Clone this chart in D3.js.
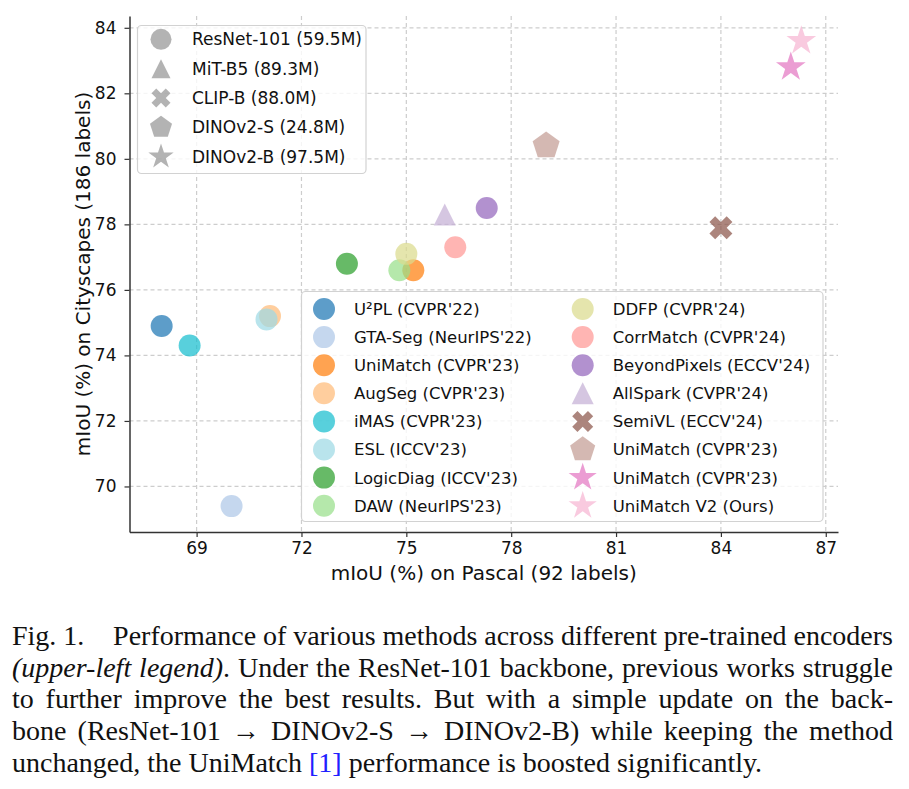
<!DOCTYPE html>
<html>
<head>
<meta charset="utf-8">
<script src="https://cdn.jsdelivr.net/npm/d3@7"></script>
<style>
  body { margin: 0; background: #fff; }
  svg { display: block; }
</style>
</head>
<body>
<div id="chart"></div>
<script>
// ---- data ----
const methods = [
  "U²PL (CVPR'22)", "GTA-Seg (NeurIPS'22)", "UniMatch (CVPR'23)", "AugSeg (CVPR'23)",
  "iMAS (CVPR'23)", "ESL (ICCV'23)", "LogicDiag (ICCV'23)", "DAW (NeurIPS'23)",
  "DDFP (CVPR'24)", "CorrMatch (CVPR'24)", "BeyondPixels (ECCV'24)", "AllSpark (CVPR'24)",
  "SemiVL (ECCV'24)", "UniMatch (CVPR'23)", "UniMatch (CVPR'23)", "UniMatch V2 (Ours)"
];
const pascal =     [68.0, 70.0, 75.2, 71.1, 68.8, 71.0, 73.3, 74.8, 75.0, 76.4, 77.3, 76.1, 84.0, 79.0, 86.0, 86.3];
const cityscapes = [74.9, 69.4, 76.6, 75.2, 74.3, 75.1, 76.8, 76.6, 77.1, 77.3, 78.5, 78.3, 77.9, 80.4, 82.8, 83.6];
// encoder index per method (into encoders)
const methodEncoder = [0, 0, 0, 0, 0, 0, 0, 0, 0, 0, 0, 1, 2, 3, 4, 4];
const encoders = ["ResNet-101 (59.5M)", "MiT-B5 (89.3M)", "CLIP-B (88.0M)", "DINOv2-S (24.8M)", "DINOv2-B (97.5M)"];
const xTicks = [69, 72, 75, 78, 81, 84, 87];
const yTicks = [70, 72, 74, 76, 78, 80, 82, 84];

const colors = [
  '#1f77b4', '#aec7e8', '#ff7f0e', '#ffbb78', '#17becf', '#9edae5', '#2ca02c', '#98df8a',
  '#dbdb8d', '#ff9896', '#9467bd', '#c5b0d5', '#8c564b', '#c49c94', '#e377c2', '#f7b6d2'
];

const captionLines = [
  "Fig. 1.| Performance of various methods across different pre-trained encoders",
  "*(upper-left legend)*. Under the ResNet-101 backbone, previous works struggle",
  "to further improve the best results. But with a simple update on the back-",
  "bone (ResNet-101 → DINOv2-S → DINOv2-B) while keeping the method",
  "unchanged, the UniMatch [1] performance is boosted significantly."
];

// ---- marker shapes (matplotlib-like) ----
function polygon(context, pts) {
  pts.forEach((p, i) => (i ? context.lineTo(p[0], p[1]) : context.moveTo(p[0], p[1])));
  context.closePath();
}
const shapes = [
  { draw(c, s) { c.moveTo(s / 2, 0); c.arc(0, 0, s / 2, 0, 2 * Math.PI); } },
  { draw(c, s) { polygon(c, [[0, -s / 2], [-s / 2, s / 2], [s / 2, s / 2]]); } },
  { draw(c, s) {
      const p = [[-0.25, -0.5], [0, -0.25], [0.25, -0.5], [0.5, -0.25], [0.25, 0], [0.5, 0.25],
                 [0.25, 0.5], [0, 0.25], [-0.25, 0.5], [-0.5, 0.25], [-0.25, 0], [-0.5, -0.25]];
      polygon(c, p.map(d => [d[0] * s, d[1] * s]));
  } },
  { draw(c, s) {
      polygon(c, d3.range(5).map(k => {
        const a = -Math.PI / 2 + k * 2 * Math.PI / 5;
        return [s * Math.cos(a), s * Math.sin(a)];
      }));
  } },
  { draw(c, s) {
      polygon(c, d3.range(10).map(k => {
        const a = -Math.PI / 2 + k * Math.PI / 5;
        const r = k % 2 ? s * 0.382 : s;
        return [r * Math.cos(a), r * Math.sin(a)];
      }));
  } }
];
const plotSize = [22, 22, 23, 14.2, 15.6];
const legend1Size = [21, 19, 19, 11.6, 13.3];
const legend2Size = [22, 22, 21, 13.2, 14.8];

// ---- chart ----
const width = 909;
const height = 789;
const plot = { left: 129.5, right: 838, top: 16, bottom: 532 };
const font = 'DejaVu Sans, sans-serif';

const svg = d3.select('#chart').append('svg')
  .attr('width', width)
  .attr('height', height);

const x = d3.scaleLinear().domain([67.08, 87.35]).range([plot.left, plot.right]);
const y = d3.scaleLinear().domain([68.61, 84.36]).range([plot.bottom, plot.top]);

const grid = svg.append('g')
  .attr('stroke', '#cdcdcd')
  .attr('stroke-width', 1.2)
  .attr('stroke-dasharray', '4,3');
grid.selectAll('.gx').data(xTicks).join('line')
  .attr('class', 'gx')
  .attr('x1', d => x(d)).attr('x2', d => x(d))
  .attr('y1', plot.top).attr('y2', plot.bottom);
grid.selectAll('.gy').data(yTicks).join('line')
  .attr('class', 'gy')
  .attr('x1', plot.left).attr('x2', plot.right)
  .attr('y1', d => y(d)).attr('y2', d => y(d));

// points
svg.append('g').selectAll('path')
  .data(d3.range(methods.length))
  .join('path')
  .attr('transform', i => `translate(${x(pascal[i])},${y(cityscapes[i])})`)
  .attr('d', i => d3.symbol(shapes[methodEncoder[i]], plotSize[methodEncoder[i]])())
  .attr('fill', i => colors[i])
  .attr('fill-opacity', 0.72);

// axes
const xAxis = svg.append('g')
  .attr('transform', `translate(0,${plot.bottom})`)
  .call(d3.axisBottom(x).tickValues(xTicks).tickSize(5).tickSizeOuter(0).tickPadding(5));
const yAxis = svg.append('g')
  .attr('transform', `translate(${plot.left},0)`)
  .call(d3.axisLeft(y).tickValues(yTicks).tickSize(5).tickSizeOuter(0).tickPadding(8));
[xAxis, yAxis].forEach(a => {
  a.select('.domain').attr('stroke', '#333').attr('stroke-width', 1.5);
  a.selectAll('.tick line').attr('stroke', '#333').attr('stroke-width', 1.2);
  a.selectAll('.tick text').attr('font-family', font).attr('font-size', 17).attr('fill', '#111');
});

svg.append('text')
  .attr('x', (plot.left + plot.right) / 2)
  .attr('y', 580)
  .attr('text-anchor', 'middle')
  .attr('font-family', font).attr('font-size', 20).attr('fill', '#111')
  .text('mIoU (%) on Pascal (92 labels)');
svg.append('text')
  .attr('transform', `translate(90,${(plot.top + plot.bottom) / 2}) rotate(-90)`)
  .attr('text-anchor', 'middle')
  .attr('font-family', font).attr('font-size', 20).attr('fill', '#111')
  .text('mIoU (%) on Cityscapes (186 labels)');

// legend boxes
function legendBox(x0, y0, w, h) {
  return svg.append('rect')
    .attr('x', x0).attr('y', y0).attr('width', w).attr('height', h)
    .attr('rx', 4)
    .attr('fill', '#fff').attr('fill-opacity', 0.8)
    .attr('stroke', '#d2d2d2').attr('stroke-width', 1.2);
}

legendBox(137.5, 25.5, 228.5, 148);
const leg1 = svg.append('g').selectAll('g')
  .data(encoders)
  .join('g')
  .attr('transform', (d, i) => `translate(161,${39.3 + i * 29.35})`);
leg1.append('path')
  .attr('d', (d, i) => d3.symbol(shapes[i], legend1Size[i])())
  .attr('fill', '#808080').attr('fill-opacity', 0.6);
leg1.append('text')
  .attr('x', 31).attr('dy', '0.36em')
  .attr('font-family', font).attr('font-size', 17).attr('fill', '#111')
  .text(d => d);

legendBox(301.5, 291.5, 521.5, 230);
const leg2 = svg.append('g').selectAll('g')
  .data(d3.range(methods.length))
  .join('g')
  .attr('transform', i => `translate(${i < 8 ? 324 : 582.7},${309 + (i % 8) * 28.1})`);
leg2.append('path')
  .attr('d', i => d3.symbol(shapes[methodEncoder[i]], legend2Size[methodEncoder[i]])())
  .attr('fill', i => colors[i]).attr('fill-opacity', 0.72);
leg2.append('text')
  .attr('x', 30).attr('dy', '0.36em')
  .attr('font-family', font).attr('font-size', 16.5).attr('fill', '#111')
  .text(i => methods[i]);

// caption, justified word by word
const cap = svg.append('g')
  .attr('font-family', 'Liberation Serif, Times New Roman, serif')
  .attr('font-size', 28)
  .attr('fill', '#111');
const capLeft = 12;
const capRight = 893;
captionLines.forEach((line, li) => {
  const baseline = 645 + li * 31.7;
  let italic = false;
  const words = line.split(' ').map(w => {
    const extra = w.endsWith('|');
    const word = extra ? w.slice(0, -1) : w;
    const parts = [];
    let buf = '';
    for (const ch of word) {
      if (ch === '*') {
        if (buf) parts.push({ t: buf, it: italic });
        buf = '';
        italic = !italic;
      } else {
        buf += ch;
      }
    }
    if (buf) parts.push({ t: buf, it: italic });
    return { parts, extra };
  });
  const nodes = words.map(w => {
    const t = cap.append('text').attr('y', baseline);
    w.parts.forEach(p => {
      t.append('tspan')
        .attr('font-style', p.it ? 'italic' : null)
        .attr('fill', p.t === '[1]' ? '#2020ff' : null)
        .text(p.t);
    });
    return { t, w: t.node().getComputedTextLength(), extra: w.extra };
  });
  const extraGap = 22;
  const total = d3.sum(nodes, n => n.w);
  const nExtra = nodes.filter(n => n.extra).length;
  const last = li === captionLines.length - 1;
  const gap = last ? 7 : (capRight - capLeft - total - nExtra * extraGap) / (nodes.length - 1);
  let cx = capLeft;
  nodes.forEach(n => {
    n.t.attr('x', cx);
    cx += n.w + gap + (n.extra ? extraGap : 0);
  });
});
</script>
</body>
</html>
